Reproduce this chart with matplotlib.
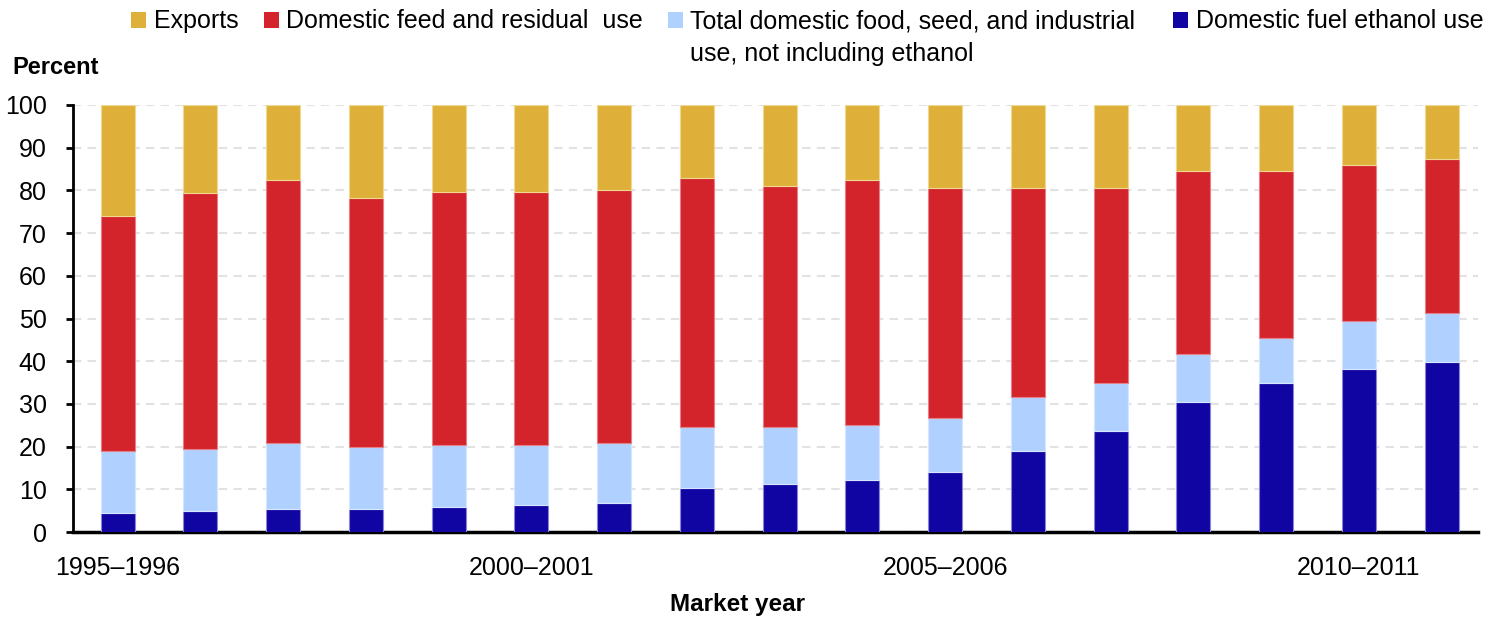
import numpy as np
import matplotlib
matplotlib.use("Agg")
import matplotlib.pyplot as plt
from matplotlib.patches import Rectangle

plt.rcParams['font.family'] = ['Liberation Sans', 'DejaVu Sans']

# market years 1995-1996 .. 2011-2012
years = [f"{y}\u2013{y + 1}" for y in range(1995, 2012)]
tick_years = ["1995\u20131996", "2000\u20132001", "2005\u20132006", "2010\u20132011"]

# shares of total use, percent
ethanol = [4.4, 4.9, 5.4, 5.4, 5.9, 6.3, 6.8, 10.2, 11.2, 12.2, 14.1, 18.9, 23.7, 30.4, 34.8, 38.2, 39.7]
fsi = [14.5, 14.5, 15.4, 14.4, 14.5, 14.1, 14.0, 14.5, 13.5, 12.9, 12.5, 12.6, 11.2, 11.2, 10.7, 11.2, 11.6]
feed = [55.0, 59.9, 61.7, 58.5, 59.3, 59.3, 59.4, 58.3, 56.4, 57.4, 54.0, 49.1, 45.7, 42.9, 39.0, 36.5, 36.1]
exports = [26.1, 20.7, 17.5, 21.7, 20.3, 20.3, 19.8, 17.0, 18.9, 17.5, 19.4, 19.4, 19.4, 15.5, 15.5, 14.1, 12.6]

labels = ["Exports", "Domestic feed and residual  use",
          "Total domestic food, seed, and industrial\nuse, not including ethanol",
          "Domestic fuel ethanol use"]
colors = ["#DEB03A", "#D3232B", "#B0D1FF", "#1005A3"]
edges = ["#F0D890", "#E88088", "#D6E6FF", "#8C86D6"]

fig = plt.figure(figsize=(15.08, 6.19), dpi=100)
ax = fig.add_axes([73 / 1508, 87 / 619, 1405 / 1508, 427 / 619])

x = np.arange(len(years))
w = 0.41
bottom = np.zeros(len(years))
stack = [(ethanol, 3), (fsi, 2), (feed, 1), (exports, 0)]
for vals, ci in stack:
    ax.bar(x, vals, w, bottom=bottom, color=colors[ci], edgecolor=edges[ci],
           linewidth=0.8, zorder=3)
    bottom += np.array(vals)

ax.set_xlim(-0.54, 16.44)
ax.set_ylim(0, 100)
ax.set_yticks(range(0, 101, 10))
ax.set_xticks([years.index(t) for t in tick_years])
ax.set_xticklabels(tick_years)
ax.tick_params(axis='x', length=0, pad=17, labelsize=18)
ax.tick_params(axis='y', direction='out', length=5, width=2, pad=14, labelsize=18)
ax.yaxis.grid(True, color="#E2E2E2", linestyle=(0, (4, 3)), linewidth=1.5, zorder=0)
ax.set_axisbelow(True)

for s in ['top', 'right']:
    ax.spines[s].set_visible(False)
ax.spines['left'].set_linewidth(2)
ax.spines['bottom'].set_linewidth(2.5)

fig.text(12 / 1508, 1 - 68 / 619, "Percent", fontsize=17, fontweight='bold', va='center', ha='left')
fig.text(737 / 1508, 1 - 605 / 619, "Market year", fontsize=17.5, fontweight='bold', va='center', ha='center')

# legend row at top
sq_x = [131, 264, 668, 1173]
txt_x = [154, 286, 690, 1196]
ly = 20
for i in range(4):
    fig.patches.append(Rectangle((sq_x[i] / 1508, 1 - (ly + 8) / 619), 15 / 1508, 16 / 619,
                                 transform=fig.transFigure, facecolor=colors[i],
                                 edgecolor='none'))
    fig.text(txt_x[i] / 1508, 1 - (ly - 11) / 619, labels[i], fontsize=18, va='top', ha='left',
             linespacing=1.45)

fig.savefig("out.png", dpi=100)
